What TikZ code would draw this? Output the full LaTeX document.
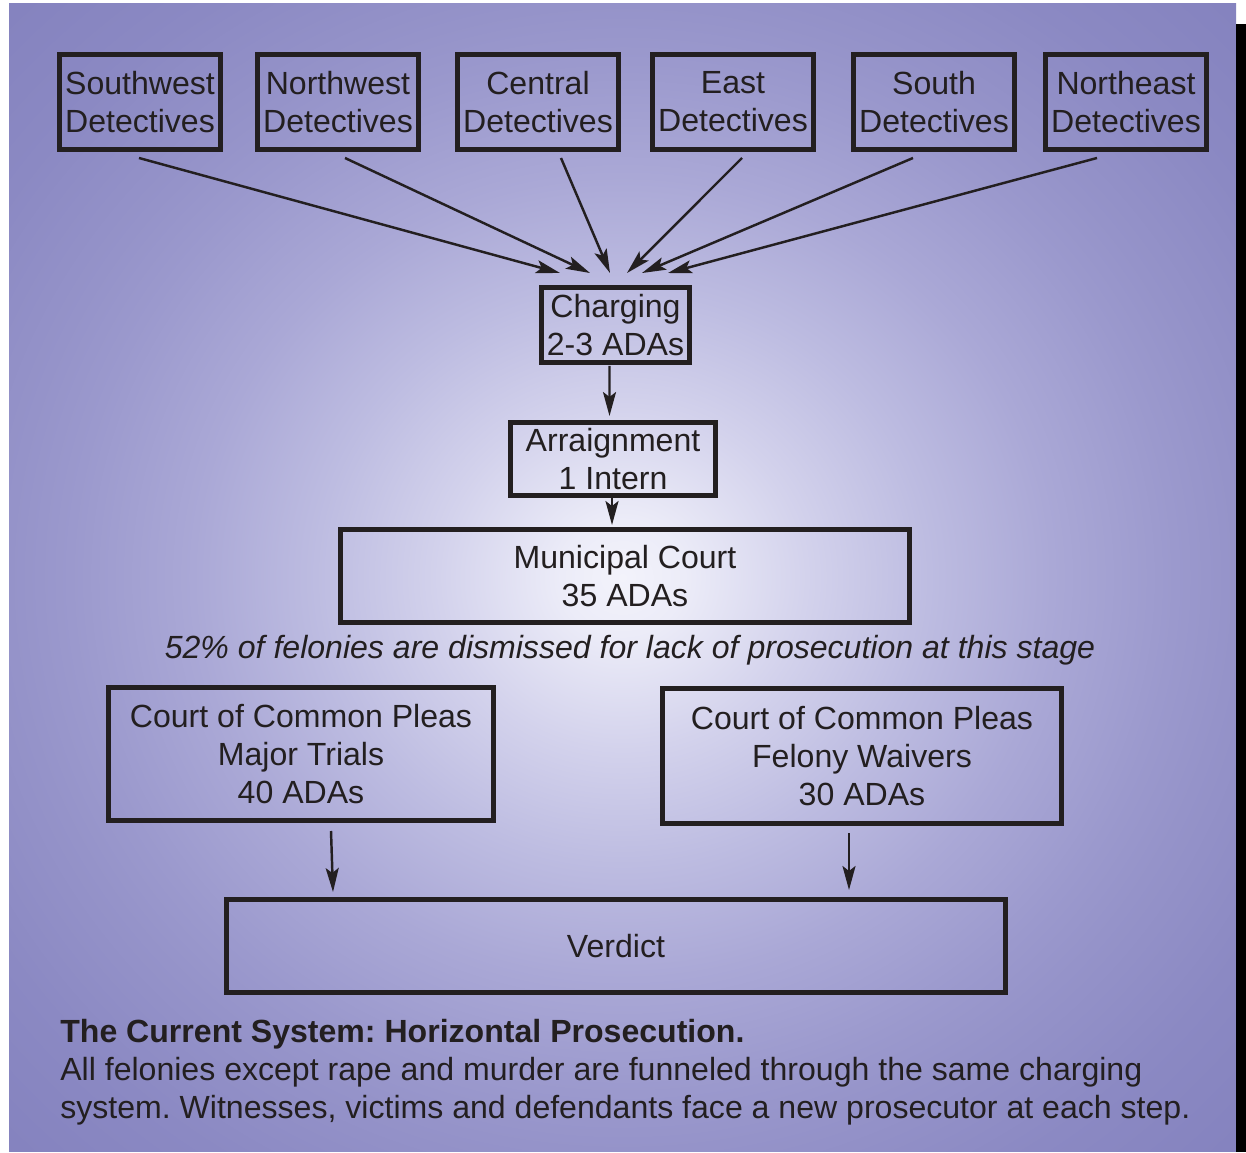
\documentclass[tikz,border=0pt]{standalone}
\usepackage{fontspec}
\setmainfont{Liberation Sans}
\usepackage{xcolor}
\usetikzlibrary{
  positioning,
  arrows.meta,
  calc
}
\frenchspacing

\definecolor{inkdark}{HTML}{231F20}
\definecolor{glowA}{HTML}{F3F3FB}
\definecolor{glowB}{HTML}{ECECF8}
\definecolor{glowC}{HTML}{D3D2EC}
\definecolor{glowD}{HTML}{BDBCE1}
\definecolor{glowE}{HTML}{AAA8D6}
\definecolor{glowF}{HTML}{9B99CD}
\definecolor{glowG}{HTML}{9593C9}
\definecolor{glowH}{HTML}{8B89C3}
\definecolor{glowI}{HTML}{8280BD}

\pgfdeclareradialshading{panelglow}{\pgfpointorigin}{
  color(0bp)=(glowA); color(2.5bp)=(glowB); color(7.5bp)=(glowC);
  color(12.5bp)=(glowD); color(17.5bp)=(glowE); color(22.5bp)=(glowF);
  color(25bp)=(glowG); color(30bp)=(glowH); color(37.5bp)=(glowI);
  color(50bp)=(glowI)}

\begin{document}
\begin{tikzpicture}[
  x=0.02cm, y=-0.02cm,
  font=\fontsize{18.25}{21.6}\selectfont,
  text=inkdark,
  box/.style={
    draw=inkdark,
    line width=2.85pt,
    inner sep=0pt,
    align=center
  },
  det/.style={
    box,
    minimum width=3.22cm,
    minimum height=1.9cm
  },
  flow/.style={
    draw=inkdark,
    line width=1.4pt,
    -{Stealth[length=0.48cm, width=0.26cm, inset=0.1cm]}
  }
]

% Page and shaded panel
\useasboundingbox (0,0) rectangle (1246,1152);
\fill[white] (0,0) rectangle (1246,1152);
\shade[shading=panelglow] (9,4) rectangle (1236,1151);
\fill[black] (1236,24) rectangle (1246,1152);

% Detective divisions
\foreach \n/\x/\name in {sw/140/Southwest, nw/338/Northwest, ce/538/Central, ea/733/East, so/934/South, ne/1126/Northeast} {
  \node[det] (\n) at (\x,102) {\name\\Detectives};
}

% Stages
\node[box, minimum width=2.96cm, minimum height=1.5cm] (charging) at (615.5,325) {Charging\\2-3 ADAs};
\node[box, minimum width=4.1cm, minimum height=1.46cm] (arraignment) at (613,459) {Arraignment\\1 Intern};
\node[box, minimum width=11.38cm, minimum height=1.86cm] (municipal) at (625,576) {Municipal Court\\35 ADAs};

\node[font=\fontsize{18.25}{21.6}\selectfont\itshape] (dismissed) at (630,650)
  {52\% of felonies are dismissed for lack of prosecution at this stage};

\node[box, minimum width=7.7cm, minimum height=2.66cm] (major) at (301,754) {Court of Common Pleas\\Major Trials\\40 ADAs};
\node[box, minimum width=7.98cm, minimum height=2.7cm] (felony) at (862,756) {Court of Common Pleas\\Felony Waivers\\30 ADAs};
\node[box, minimum width=15.58cm, minimum height=1.86cm] (verdict) at (616,946) {Verdict};

% Arrows into charging
\foreach \n/\s/\e in {sw/-1/-55.5, nw/7/-25.5, ce/23/-5.5, ea/9/11.5, so/-21/26.5, ne/-29/52.5} {
  \draw[flow] ($(\n.south)+(\s,6)$) -- ($(charging.north)+(\e,-12)$);
}

% Arrows down the chain
\draw[flow] ($(charging.south)+(-6,1)$) -- ($(arraignment.north)+(-3.5,-4)$);
\draw[flow] ($(arraignment.south)+(-1,0)$) -- ($(municipal.north)+(-13,-2)$);
\draw[flow] ($(major.south)+(30,8)$) -- ($(verdict.north)+(-283,-5)$);
\draw[flow] ($(felony.south)+(-13,7)$) -- ($(verdict.north)+(233,-7)$);

% Caption
\node[anchor=north west, align=left, inner sep=0pt] (caption) at (60,1019)
  {\textbf{The Current System: Horizontal Prosecution.}\\
   All felonies except rape and murder are funneled through the same charging\\
   system. Witnesses, victims and defendants face a new prosecutor at each step.};

\end{tikzpicture}
\end{document}
